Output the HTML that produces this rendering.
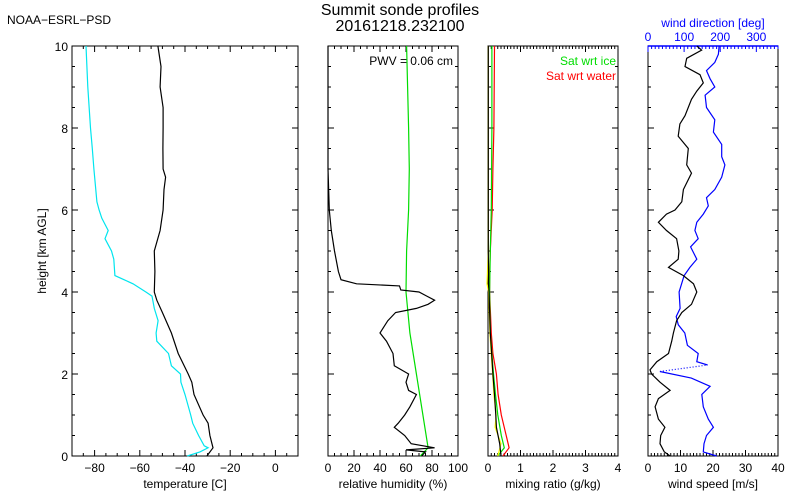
<!DOCTYPE html>
<html><head><meta charset="utf-8"><style>
html,body{margin:0;padding:0;background:#fff}
svg{display:block;font-family:"Liberation Sans",sans-serif}
</style></head><body>
<svg id="chart" width="800" height="500" viewBox="0 0 800 500">
<rect width="800" height="500" fill="#fff"/>
<text x="7" y="24" font-size="12">NOAA−ESRL−PSD</text>
<text x="400" y="15" font-size="16" text-anchor="middle">Summit sonde profiles</text>
<text x="400" y="31" font-size="16" text-anchor="middle">20161218.232100</text>
<g id="plots"></g>
</svg>
<script>
// heights (km) and values
const tHeights=[0,0.2,0.5,0.8,1.0,1.5,1.8,2.0,2.5,3.0,3.5,3.8,4.0,4.5,5.0,5.5,6.0,6.5,6.8,7.0,7.5,8.0,8.5,9.0,9.5,10];
const tempVals=[-30.3,-27.6,-29,-29.8,-32,-36,-37,-38.6,-43,-46,-50,-52.5,-53.6,-53.3,-53.6,-51,-49.7,-49.3,-48.6,-49.7,-49.8,-49.7,-49.7,-51,-50.6,-52];
const dHeights=[0,0.1,0.2,0.25,0.5,0.8,1.0,1.5,1.8,2.0,2.2,2.5,2.8,3.0,3.3,3.6,3.9,4.0,4.2,4.3,4.4,4.8,5.0,5.3,5.5,5.8,6.0,6.2,7.0,7.5,8.0,9.0,10];
const dewVals=[-39,-33.4,-29.8,-31.5,-34,-36.6,-37.5,-40,-41.8,-42,-46,-47.3,-52.5,-52.8,-51.9,-53.6,-54.6,-57.3,-63,-67,-71,-71.5,-72.5,-75.4,-74,-76.8,-78,-79,-80.3,-81,-81.8,-83,-83.8];
const rhHeights=[0,0.1,0.15,0.2,0.3,0.5,0.7,0.8,1.0,1.2,1.5,1.6,1.8,2.0,2.2,2.5,2.8,3.0,3.3,3.5,3.6,3.7,3.8,3.9,4.0,4.05,4.15,4.2,4.3,4.5,5.0,5.5,6.0,7.0,10];
const rhVals=[72,75,60,82,64,59,51,54,59,63,68,62,60,62,51,50,45,40,46,52,68,77,82,76,70,56,55,22,10,8,5,2.5,1,0,0];
const rhiHeights=[0,0.2,1.0,2,3,4,5,6,7,8,10];
const rhiVals=[71,77,73,68,63,60,60.5,62,62.5,62,60.5];
const mrHeights=[0,0.3,0.7,1.0,1.5,2,3,4,4.2,5,10];
const mrVals=[0.4,0.36,0.26,0.24,0.2,0.15,0.07,0.03,0.02,0.01,0.01];
const mrYellowVals=[0.3,0.4,0.22,0.25,0.18,0.14,0.06,0.02,-0.03,0.01,0.01];
const satIceHeights=[0,0.2,0.5,1,1.5,2,3,4,5,6,8,10];
const satIceVals=[0.3,0.5,0.41,0.3,0.23,0.17,0.07,0.05,0.07,0.1,0.12,0.12];
const satWatHeights=[0,0.2,0.5,1,1.5,2,2.5,3,4,4.5,5,6,7,8,10];
const satWatVals=[0.46,0.65,0.56,0.41,0.31,0.26,0.15,0.1,0.05,0.05,0.07,0.13,0.15,0.18,0.2];
const wsHeights=[0,0.1,0.3,0.5,0.7,0.9,1.2,1.4,1.6,1.8,2.0,2.1,2.3,2.5,2.8,3.0,3.3,3.5,3.7,4.0,4.2,4.4,4.6,4.8,5.0,5.3,5.5,5.7,5.9,6.0,6.2,6.5,6.9,7.1,7.5,7.8,8.1,8.3,8.7,8.9,9.1,9.3,9.5,9.7,9.9,10];
const wsVals=[6.8,5,3.7,3.9,5.2,3.2,2.2,3.2,6.8,3.7,1.1,0.6,2.7,6.3,7.3,7.8,8.8,10.4,13.4,15,14,10.9,6.3,9.3,9.5,8.8,5.7,3.2,5.7,8.3,10.4,10.9,13.4,11.9,12.4,9.3,9.8,11.4,13.4,15,17,16,11.4,11.9,16.5,15];
const wdHeights=[0,0.1,0.3,0.5,0.7,0.9,1.2,1.5,1.7,1.9,2.06];
const wdVals=[190,153,155,162,181,167,153,149,172,120,33];
const wdGapHeights=[2.06,2.22];
const wdGapVals=[33,165];
const wdUpHeights=[2.22,2.3,2.5,2.7,3.0,3.2,3.4,3.6,4.0,4.2,4.4,4.6,4.8,5.1,5.3,5.5,5.7,5.9,6.1,6.3,6.5,6.8,7.1,7.3,7.6,7.9,8.2,8.5,8.8,9.0,9.2,9.4,9.6,9.8,10];
const wdUpVals=[165,135,139,109,102,84,78,89,86,93,100,116,135,118,139,130,135,153,167,162,185,204,213,204,204,181,185,162,158,185,172,162,185,195,197];

const NS='http://www.w3.org/2000/svg';
const root=document.getElementById('plots');
const Y0=456,Y1=46;
const yS=h=>Y0-(h/10)*(Y0-Y1);
function el(tag,attrs,parent){const e=document.createElementNS(NS,tag);for(const k in attrs)e.setAttribute(k,attrs[k]);(parent||root).appendChild(e);return e;}
function panel(name,x0,x1,xmin,xmax,minor,major,labels,title,yLabels){
  const g=el('g',{});
  
  
  const xS=v=>x0+(v-xmin)/(xmax-xmin)*(x1-x0);
  const fr=el('rect',{x:x0,y:Y1,width:x1-x0,height:Y0-Y1,fill:'none',stroke:'#000','stroke-width':1},g);
  
  
  for(let v=xmin;v<=xmax+1e-9;v+=minor){
    const x=xS(v);const isM=Math.abs(Math.round(v/major)*major-v)<1e-6;const L=isM?6:3;
    el('line',{x1:x,y1:Y0,x2:x,y2:Y0-L,stroke:'#000'},g);
    if(!name.startsWith('wind'))el('line',{x1:x,y1:Y1,x2:x,y2:Y1+L,stroke:'#000'},g);
  }
  for(let h=0;h<=10.001;h+=0.5){
    const y=yS(h);const isM=Math.abs(h%2)<1e-6;const L=isM?6:3;
    el('line',{x1:x0,y1:y,x2:x0+L,y2:y,stroke:'#000'},g);
    el('line',{x1:x1,y1:y,x2:x1-L,y2:y,stroke:'#000'},g);
    if(yLabels&&isM){const t=el('text',{x:x0-4,y:y+5,'font-size':12,'text-anchor':'end'},g);t.textContent=Math.round(h);
      
      }
  }
  labels.forEach(v=>{const t=el('text',{x:xS(v),y:472,'font-size':12,'text-anchor':'middle'},g);t.textContent=String(v).replace('-','−');
    
    });
  const tt=el('text',{x:(x0+x1)/2,y:488,'font-size':12,'text-anchor':'middle'},g);tt.textContent=title;
  
  
  return {g,xS};
}
function line(p,hs,vs,color,name,dash,xS2){
  const f=xS2||p.xS;
  const d=hs.map((h,i)=>(i?'L':'M')+f(vs[i]).toFixed(1)+','+yS(h).toFixed(1)).join('');
  const a={d:d,fill:'none',stroke:color,'stroke-width':1.2};if(dash)a['stroke-dasharray']=dash;
  const e=el('path',a,p.g);
  
  
}
// Panel 1
const p1=panel('temperature-panel',72,298,-90,10,5,20,[-80,-60,-40,-20,0],'temperature [C]',true);
line(p1,dHeights,dewVals,'#00e5ee','dewpoint-line');
line(p1,tHeights,tempVals,'#000','temperature-line');
const yt=el('text',{x:0,y:0,'font-size':12,'text-anchor':'middle',transform:'translate(46,251) rotate(-90)'});
yt.textContent='height [km AGL]';


// Panel 2
const p2=panel('rh-panel',328,458,0,100,5,20,[0,20,40,60,80,100],'relative humidity (%)',false);
line(p2,rhiHeights,rhiVals,'#00dd00','rh-ice-line');
line(p2,rhHeights,rhVals,'#000','rh-line');
const pw=el('text',{x:453,y:65,'font-size':12,'text-anchor':'end'},p2.g);pw.textContent='PWV = 0.06 cm';


// Panel 3
const p3=panel('mixing-ratio-panel',488,618,0,4,0.1,1,[0,1,2,3,4],'mixing ratio (g/kg)',false);
line(p3,satWatHeights,satWatVals,'#ff0000','sat-water-line');
line(p3,satIceHeights,satIceVals,'#00dd00','sat-ice-line');
line(p3,mrHeights,mrYellowVals,'#ffff00','mixing-ratio-alt-line');
line(p3,mrHeights,mrVals,'#000','mixing-ratio-line');
const l1=el('text',{x:616,y:65,'font-size':12,'text-anchor':'end',fill:'#00dd00'},p3.g);l1.textContent='Sat wrt ice';


const l2=el('text',{x:616,y:80,'font-size':12,'text-anchor':'end',fill:'#ff0000'},p3.g);l2.textContent='Sat wrt water';


// Panel 4
const p4=panel('wind-panel',648,778,0,40,1,10,[0,10,20,30,40],'wind speed [m/s]',false);
const dS=v=>648+v/360*130;
el('line',{x1:648,y1:Y1,x2:778,y2:Y1,stroke:'#0000ff','stroke-width':1.5},p4.g);
for(let v=0;v<=360;v+=10){const isM=v%100===0;el('line',{x1:dS(v),y1:Y1,x2:dS(v),y2:Y1+(isM?6:3),stroke:'#0000ff'},p4.g);}
[0,100,200,300].forEach(v=>{const t=el('text',{x:dS(v),y:41,'font-size':12,'text-anchor':'middle',fill:'#0000ff'},p4.g);t.textContent=v;
  
  });
const dt=el('text',{x:713,y:27,'font-size':12,'text-anchor':'middle',fill:'#0000ff'},p4.g);dt.textContent='wind direction [deg]';


line(p4,wdHeights,wdVals,'#0000ff','wind-direction-line',null,dS);
line(p4,wdGapHeights,wdGapVals,'#0000ff','wind-direction-wrap-line','1,2',dS);
line(p4,wdUpHeights,wdUpVals,'#0000ff','wind-direction-line-upper',null,dS);
line(p4,wsHeights,wsVals,'#000','wind-speed-line');
</script>
</body></html>
